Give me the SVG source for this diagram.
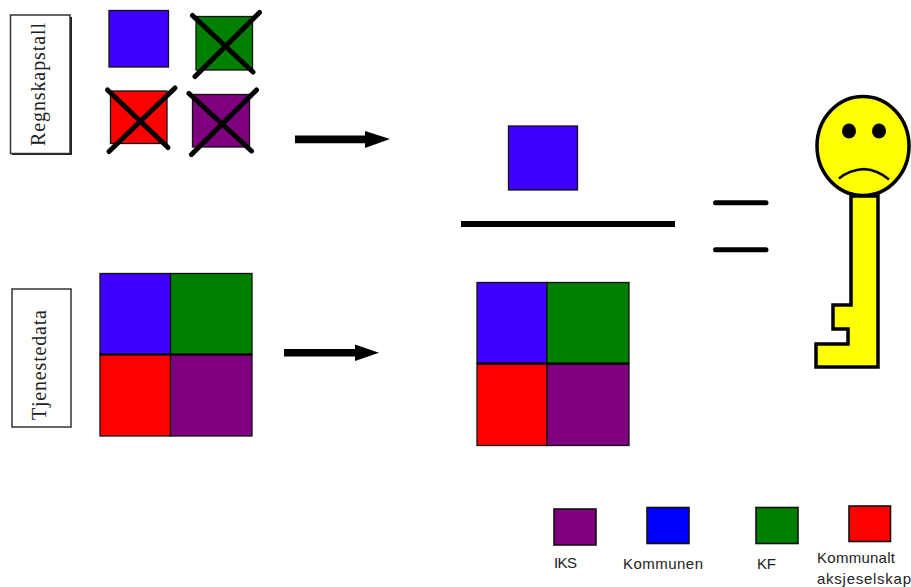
<svg xmlns="http://www.w3.org/2000/svg" width="911" height="587" viewBox="0 0 911 587">
<style>
.b{fill:#3f00ff}.lb{fill:#0000ff}.g{fill:#007f00}.r{fill:#ff0000}.p{fill:#7f007f}
.q{stroke:#111;stroke-width:1.3}
.lg{stroke:#111;stroke-width:1.6}
.x{stroke:#000;stroke-width:5;stroke-linecap:round;fill:none}
.bar{stroke:#000;fill:none}
.lbl{font-family:"Liberation Serif","Times New Roman",serif;font-size:20px;fill:#222}
.leg{font-family:"Liberation Sans",Arial,sans-serif;font-size:15px;fill:#222}
.k{stroke:#000;stroke-width:3.500;fill:#ffff00}
.box{fill:#fff;stroke:#333;stroke-width:1.5}
</style>
<rect width="911" height="587" fill="#fff"/>
<g id="regnskapstall-label">
<rect x="12" y="17" width="60" height="138" fill="#222"/>
<rect class="box" x="10.5" y="15" width="59.5" height="138.500"/>
<text class="lbl" transform="translate(45,146) rotate(-90)" textLength="123" lengthAdjust="spacing">Regnskapstall</text>
</g>
<g id="tjenestedata-label">
<rect class="box" x="12" y="289" width="59" height="138"/>
<text class="lbl" transform="translate(45.500,420) rotate(-90)" textLength="110" lengthAdjust="spacing">Tjenestedata</text>
</g>
<g id="regnskap-blue"><rect class="b q" x="109" y="10.500" width="59.500" height="56.500"/></g>
<g id="regnskap-green"><rect class="g q" x="196" y="16.500" width="56.500" height="53.500"/>
<path class="x" d="M192.500 15.500L253 72M259.500 12.500L195 76.500"/></g>
<g id="regnskap-red"><rect class="r q" x="110.500" y="91" width="56.500" height="52.500"/>
<path class="x" d="M107.500 90L168 147.500M175 88L109 151.500"/></g>
<g id="regnskap-purple"><rect class="p q" x="192.500" y="94.500" width="57" height="52.500"/>
<path class="x" d="M189 93.500L251.500 151M256.500 90L191.500 154.500"/></g>
<g id="tjeneste-grid">
<rect class="b q" x="100" y="273.500" width="70.500" height="81"/>
<rect class="g q" x="170.500" y="273.500" width="81.500" height="81"/>
<rect class="r q" x="100" y="354.500" width="70.500" height="81.500"/>
<rect class="p q" x="170.500" y="354.500" width="81.500" height="81.500"/>
<path d="M100 354.500H252" stroke="#000" stroke-width="2.200"/>
</g>
<g id="result-blue"><rect class="b q" x="508.500" y="126" width="69" height="64"/></g>
<g id="result-grid">
<rect class="b q" x="477" y="282.500" width="70" height="81"/>
<rect class="g q" x="547" y="282.500" width="82" height="81"/>
<rect class="r q" x="477" y="363.500" width="70" height="82"/>
<rect class="p q" x="547" y="363.500" width="82" height="82"/>
<path d="M477 363.700H629" stroke="#000" stroke-width="2.200"/>
</g>
<g id="connectors">
<path d="M295 135.500H365V131L390 139L365 148V143.200H295Z" fill="#000"/>
<path d="M284 349H355V344.500L379 352.700L355 361V356.500H284Z" fill="#000"/>
<path class="bar" stroke-width="6" d="M461 224H675"/>
<path class="bar" stroke-width="5" stroke-linecap="round" d="M715.500 202.800H766"/>
<path class="bar" stroke-width="5" stroke-linecap="round" d="M715.500 249.800H766"/>
</g>
<g id="sad-key">
<path class="k" d="M851 196V305H833V329H848V344H816V367H878V196Z"/>
<ellipse class="k" cx="863" cy="146" rx="46" ry="49.500"/>
<ellipse cx="849" cy="131" rx="7" ry="7.500" fill="#000"/>
<ellipse cx="879" cy="131" rx="7" ry="7.500" fill="#000"/>
<path d="M839 178.500Q849 170 864 169Q878 170 889 179.500" fill="none" stroke="#000" stroke-width="2.500"/>
</g>
<g id="legend-iks"><rect class="p lg" x="554" y="509" width="42" height="36"/><text class="leg" x="554" y="568" textLength="23">IKS</text></g>
<g id="legend-kommunen"><rect class="lb lg" x="647" y="507.500" width="42" height="36"/><text class="leg" x="623" y="569" textLength="80">Kommunen</text></g>
<g id="legend-kf"><rect class="g lg" x="756" y="507.500" width="42" height="36"/><text class="leg" x="757" y="569" textLength="19">KF</text></g>
<g id="legend-aksjeselskap"><rect class="r lg" x="849" y="506" width="41.500" height="35.500"/><text class="leg" x="817" y="563" textLength="78">Kommunalt</text><text class="leg" x="817" y="584" textLength="94">aksjeselskap</text></g>
</svg>
